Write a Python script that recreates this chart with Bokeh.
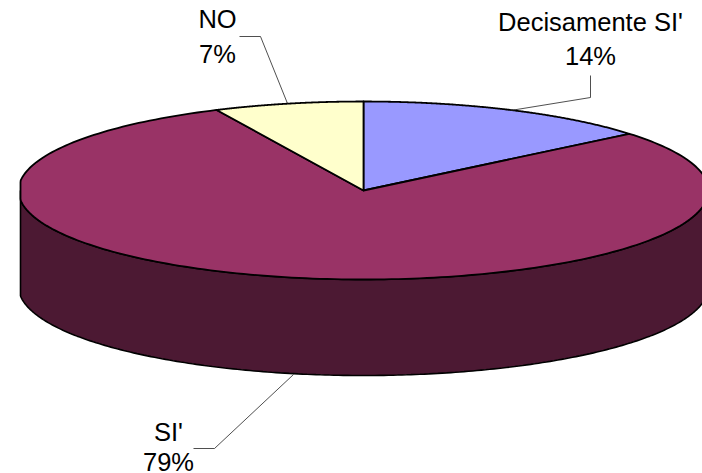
import numpy as np
from bokeh.embed import file_html
from bokeh.models import ColumnDataSource, Range1d
from bokeh.plotting import figure
from bokeh.resources import INLINE
from bokeh.core.properties import value

# Slices, clockwise from twelve o'clock
categories = ["Decisamente SI'", "SI'", "NO"]
shares = [14, 79, 7]
top_colors = ["#9999FF", "#993366", "#FFFFCC"]
wall_color = "#4C1933"

W, H = 702, 473
CX, CY, RX, RY, DEPTH = 363, 190, 345, 89, 96
LEFT_LIMIT = 20


def rim(a0, a1, n=240, drop=0):
    """Points of the ellipse between two clockwise angles measured from the top."""
    t = np.linspace(a0, a1, n)
    x = np.maximum(CX + RX * np.sin(t), LEFT_LIMIT)
    return x, CY - RY * np.cos(t) + drop


p = figure(width=W, height=H, output_backend="svg", toolbar_location=None,
           x_range=Range1d(0, W), y_range=Range1d(H, 0), min_border=0,
           x_axis_type=None, y_axis_type=None, outline_line_color=None)
p.grid.visible = False

# Side wall of the disc: front half of the rim, swept down by the depth
xu, yu = rim(np.pi / 2, 3 * np.pi / 2)
xl, yl = rim(np.pi / 2, 3 * np.pi / 2, drop=DEPTH)
p.patch(np.r_[xu, xl[::-1]], np.r_[yu, yl[::-1]],
        fill_color=wall_color, line_color="black", line_width=1.6)

# Top face, one wedge per share
edges = np.r_[0, np.cumsum(shares)] / sum(shares) * 2 * np.pi
for a0, a1, color in zip(edges[:-1], edges[1:], top_colors):
    x, y = rim(a0, a1)
    p.patch(np.r_[CX, x], np.r_[CY, y], fill_color=color,
            line_color="black", line_width=1.8, line_join="round")

# Leader lines from the rim to the labels
leaders = [
    ([590, 590, 510], [75, 97, 110]),
    ([193, 214, 293], [448, 448, 374]),
    ([239, 260, 287], [36, 36, 103]),
]
for lx, ly in leaders:
    p.line(lx, ly, line_color="#222222", line_width=0.8)

# Labels: category above, share below (y values are line centres)
anchors = [(590, 21.5, 55), (168, 431, 461.5), (217, 18, 53)]
for name, share, (ax, y1, y2) in zip(categories, shares, anchors):
    src = ColumnDataSource(dict(x=[ax, ax], y=[y1, y2], t=[name, f"{share}%"]))
    p.text("x", "y", text="t", source=src, text_align="center",
           text_baseline="middle", text_color="black",
           text_font=value("Liberation Sans"), text_font_size="25.5px")

open("out.html", "w").write(file_html(p, INLINE))
